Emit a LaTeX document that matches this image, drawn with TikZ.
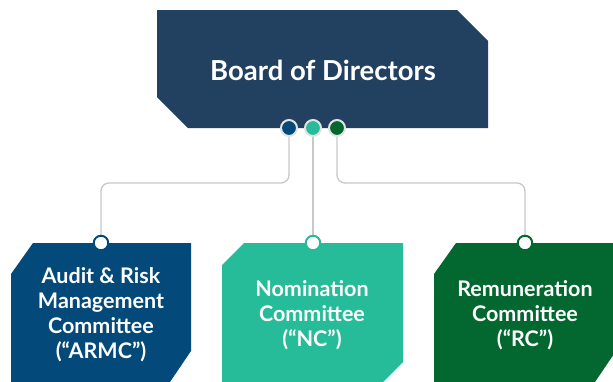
\documentclass[tikz,border=0pt]{standalone}
\usepackage{fontspec}
\setmainfont{Lato}
\definecolor{boardblue}{HTML}{22405F}
\definecolor{armcblue}{HTML}{03497A}
\definecolor{ncteal}{HTML}{26BC9A}
\definecolor{rcgreen}{HTML}{036830}
\definecolor{linegray}{HTML}{C8C8C8}
\definecolor{ringgray}{HTML}{E2E2E2}
\begin{document}
\begin{tikzpicture}[x=1pt,y=-1pt,
  conn/.style={draw=linegray, line width=1.3pt, rounded corners=8pt},
  hub/.style={circle, inner sep=0pt, minimum size=16pt, line width=2pt, draw=ringgray},
  port/.style={circle, fill=white, inner sep=0pt, minimum size=14.5pt, line width=2pt},
  boardtext/.style={text=white, font=\bfseries\fontsize{27.5}{30}\selectfont, align=center},
  committee/.style={text=white, font=\bfseries\fontsize{21.5}{25}\selectfont, align=center}]
\useasboundingbox (0,0) rectangle (613,381);

% elbows of the two outer connectors
\coordinate (hl) at (101,183);
\coordinate (hr) at (525,183);

% connectors (drawn first so the boxes and circles cover their ends)
\path (289,128) coordinate (t1p) (313,128) coordinate (t2p) (337,128) coordinate (t3p)
      (101,243) coordinate (b1p) (313,243) coordinate (b2p) (525,243) coordinate (b3p);
\draw[conn] (t1p) |- (hl) -- (b1p);
\draw[conn] (t2p) -- (b2p);
\draw[conn] (t3p) |- (hr) -- (b3p);

% board of directors
\fill[boardblue] (157,10) -- (457,10) -- (488,41) -- (488,128) -- (188,128) -- (157,97) -- cycle;
\node[boardtext] (board) at (323,70) {Board of Directors};

% committees
\fill[armcblue] (33,243) -- (191,243) -- (191,351) -- (170,382) -- (11,382) -- (11,274) -- cycle;
\fill[ncteal] (244,243) -- (403,243) -- (403,362) -- (383,382) -- (222,382) -- (222,265) -- cycle;
\fill[rcgreen] (456,243) -- (616,243) -- (616,351) -- (595,382) -- (434,382) -- (434,274) -- cycle;

\node[committee] (armc) at (101,315) {Audit \& Risk\\Management\\Committee\\(“ARMC”)};
\node[committee] (nc) at (312,315) {Nomination\\Committee\\(“NC”)};
\node[committee] (rc) at (525,315) {Remuneration\\Committee\\(“RC”)};

% circles
\node[hub, fill=armcblue] (t1) at (t1p) {};
\node[hub, fill=ncteal] (t2) at (t2p) {};
\node[hub, fill=rcgreen] (t3) at (t3p) {};
\node[port, draw=armcblue] (b1) at (b1p) {};
\node[port, draw=ncteal] (b2) at (b2p) {};
\node[port, draw=rcgreen] (b3) at (b3p) {};
\end{tikzpicture}
\end{document}
